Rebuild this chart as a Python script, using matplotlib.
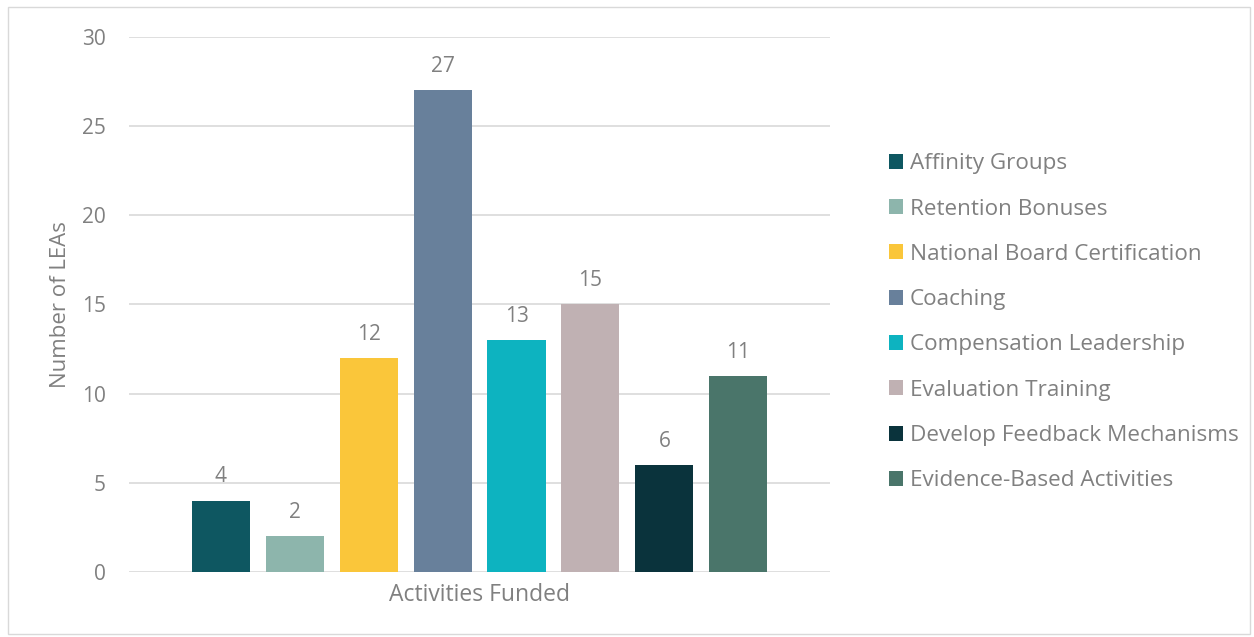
import matplotlib.pyplot as plt
from matplotlib.patches import Rectangle, Patch

# activity categories and how many LEAs funded each
activities = [
    "Affinity Groups",
    "Retention Bonuses",
    "National Board Certification",
    "Coaching",
    "Compensation Leadership",
    "Evaluation Training",
    "Develop Feedback Mechanisms",
    "Evidence-Based Activities",
]
lea_counts = [4, 2, 12, 27, 13, 15, 6, 11]
bar_colors = ["#0E5761", "#8DB5AC", "#FAC63A", "#68809B",
              "#0DB3C0", "#C0B1B3", "#0A333C", "#4A756A"]
y_ticks = [0, 5, 10, 15, 20, 25, 30]

plt.rcParams["font.family"] = ["Open Sans", "DejaVu Sans"]
text_grey = "#808080"

fig = plt.figure(figsize=(12.54, 6.37), dpi=100)
ax = fig.add_axes([0.1029, 0.102, 0.559, 0.840])

x = list(range(len(activities)))
bars = ax.bar(x, lea_counts, width=0.785, color=bar_colors, zorder=3)

for b, v in zip(bars, lea_counts):
    ax.annotate(str(v), (b.get_x() + b.get_width() / 2, v),
                xytext=(0, 9.5), textcoords="offset points",
                ha="center", va="bottom", fontsize=15, color=text_grey)

ax.set_xlim(-1.24, len(activities) - 1 + 1.24)
ax.set_ylim(0, 30)
ax.set_yticks(y_ticks)
ax.set_xticks([])
ax.yaxis.grid(True, color="#d9d9d9", linewidth=1.2, zorder=0)
for s in ax.spines.values():
    s.set_visible(False)
ax.tick_params(axis="y", length=0, pad=16.5, labelsize=15, labelcolor=text_grey)

ax.set_xlabel("Activities Funded", fontsize=16.5, color=text_grey, labelpad=8)
ax.set_ylabel("Number of LEAs", fontsize=16, color=text_grey, labelpad=8)

handles = [Patch(facecolor=c, edgecolor="none") for c in bar_colors]
fig.legend(handles, activities, loc="center left",
           bbox_to_anchor=(0.6925, 0.494), frameon=False,
           fontsize=16.2, labelcolor=text_grey,
           handlelength=0.65, handleheight=0.65, handletextpad=0.3,
           labelspacing=1.08)

# thin frame around the whole chart
fig.patches.append(Rectangle((0.0065, 0.004), 0.99, 0.985,
                             transform=fig.transFigure, fill=False,
                             edgecolor="#d9d9d9", linewidth=1.0))

fig.savefig("out.png", dpi=100, facecolor="white")
